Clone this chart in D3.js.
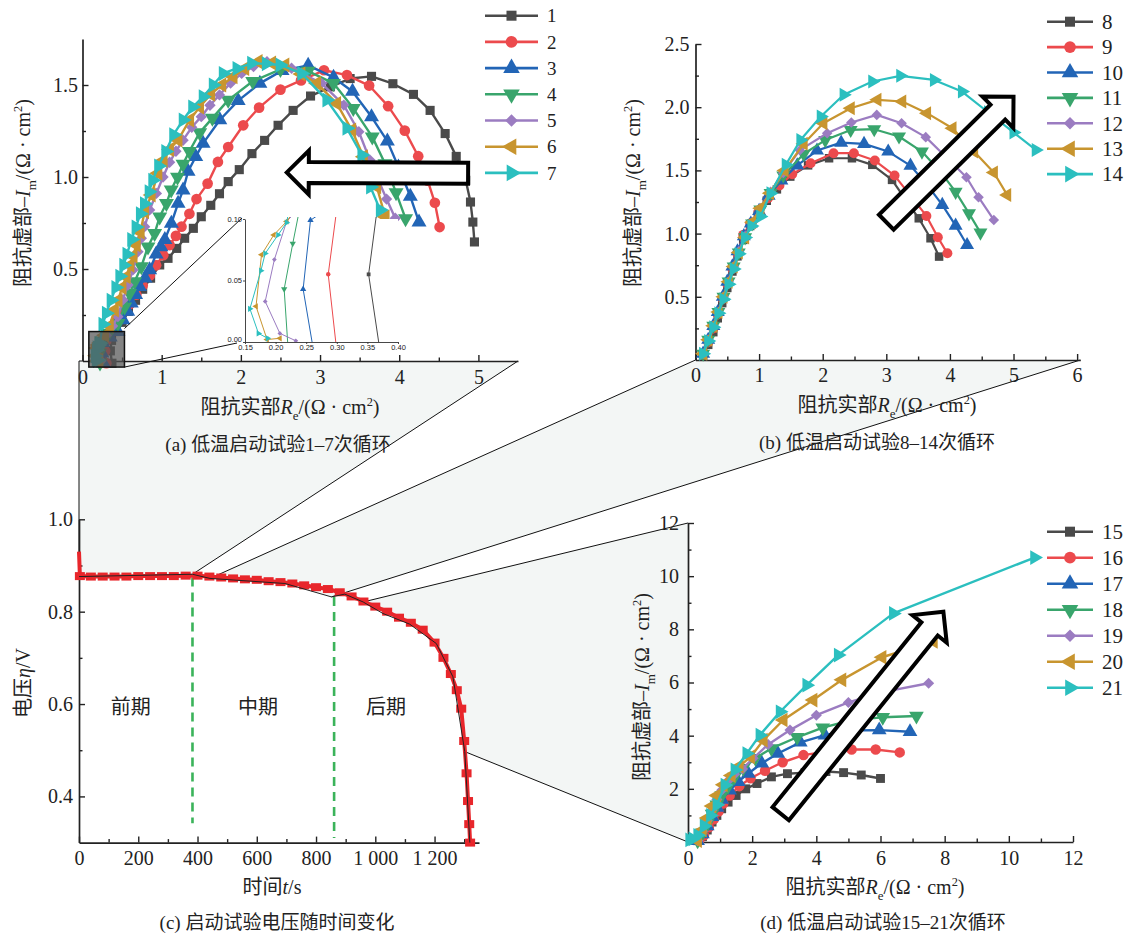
<!DOCTYPE html>
<html>
<head>
<meta charset="utf-8">
<script src="https://cdn.jsdelivr.net/npm/d3@7"></script>
<style>
  body { margin: 0; background: #fff; }
  .fig text { font-family: "Liberation Serif", "Noto Sans CJK SC", serif; fill: #222; }
</style>
</head>
<body>
<div class="fig"></div>
<script>
// ---------- (a) cycles 1-7 : [Re, -Im] ----------
const cyclesA = ['1', '2', '3', '4', '5', '6', '7']
const a1 = [[0.372,-0.012],[0.352,0.055],[0.367,0.112],[0.42,0.16],[0.50,0.21],[0.58,0.27],[0.67,0.33],[0.76,0.39],[0.86,0.45],[0.975,0.522],[1.08,0.558],[1.19,0.612],[1.29,0.667],[1.40,0.721],[1.50,0.784],[1.62,0.846],[1.73,0.909],[1.84,0.975],[1.98,1.04],[2.14,1.127],[2.30,1.199],[2.47,1.281],[2.66,1.362],[2.88,1.44],[3.13,1.49],[3.38,1.535],[3.65,1.547],[3.92,1.507],[4.18,1.449],[4.39,1.362],[4.58,1.236],[4.72,1.112],[4.84,0.982],[4.90,0.864],[4.93,0.755],[4.95,0.647]]
const a2 = [[0.301,-0.012],[0.286,0.055],[0.301,0.112],[0.36,0.17],[0.44,0.22],[0.52,0.27],[0.60,0.31],[0.68,0.36],[0.76,0.41],[0.85,0.465],[0.93,0.52],[1.02,0.575],[1.10,0.63],[1.18,0.68],[1.25,0.73],[1.35,0.80],[1.44,0.88],[1.58,0.964],[1.71,1.082],[1.84,1.163],[2.03,1.281],[2.23,1.377],[2.50,1.475],[2.76,1.525],[3.05,1.58],[3.34,1.554],[3.62,1.497],[3.86,1.385],[4.07,1.252],[4.24,1.113],[4.36,0.98],[4.45,0.86],[4.51,0.728]]
const a3 = [[0.263,-0.01],[0.245,0.043],[0.257,0.099],[0.35,0.13],[0.447,0.159],[0.51,0.223],[0.57,0.27],[0.616,0.314],[0.67,0.36],[0.72,0.404],[0.79,0.45],[0.848,0.495],[0.93,0.58],[0.99,0.62],[1.04,0.66],[1.122,0.748],[1.207,0.857],[1.27,0.929],[1.333,1.03],[1.43,1.11],[1.523,1.183],[1.734,1.31],[1.966,1.415],[2.24,1.509],[2.52,1.578],[2.85,1.607],[3.17,1.541],[3.41,1.465],[3.65,1.327],[3.85,1.195],[3.99,1.054],[4.14,0.895],[4.25,0.755]]
const a4 = [[0.221,-0.01],[0.214,0.043],[0.228,0.08],[0.24,0.11],[0.33,0.15],[0.447,0.205],[0.532,0.295],[0.595,0.368],[0.658,0.431],[0.743,0.513],[0.827,0.621],[0.911,0.694],[0.975,0.784],[1.06,0.857],[1.12,0.93],[1.20,1.0],[1.27,1.07],[1.35,1.14],[1.48,1.241],[1.64,1.32],[1.84,1.418],[2.15,1.52],[2.50,1.585],[2.85,1.575],[3.17,1.509],[3.42,1.373],[3.66,1.218],[3.82,1.073],[3.96,0.915],[4.08,0.774]]
const a5 = [[0.233,0.001],[0.207,0.007],[0.183,0.033],[0.198,0.067],[0.218,0.098],[0.30,0.14],[0.38,0.19],[0.447,0.241],[0.51,0.332],[0.574,0.413],[0.637,0.495],[0.70,0.594],[0.743,0.667],[0.785,0.73],[0.848,0.821],[0.933,0.911],[1.017,1.0],[1.10,1.08],[1.18,1.14],[1.27,1.2],[1.38,1.27],[1.50,1.328],[1.61,1.39],[1.73,1.446],[1.87,1.51],[2.01,1.563],[2.16,1.60],[2.33,1.627],[2.64,1.591],[3.02,1.509],[3.30,1.391],[3.49,1.246],[3.63,1.092],[3.74,0.98],[3.84,0.88],[3.95,0.776]]
const a6 = [[0.207,0.003],[0.186,0.002],[0.168,0.029],[0.177,0.071],[0.197,0.087],[0.218,0.098],[0.28,0.14],[0.34,0.19],[0.405,0.277],[0.45,0.33],[0.50,0.40],[0.553,0.458],[0.60,0.52],[0.64,0.57],[0.68,0.63],[0.73,0.70],[0.785,0.811],[0.869,0.902],[0.953,1.02],[1.02,1.09],[1.10,1.15],[1.207,1.201],[1.354,1.31],[1.48,1.38],[1.62,1.45],[1.76,1.50],[1.903,1.545],[2.05,1.59],[2.219,1.627],[2.39,1.62],[2.557,1.609],[2.76,1.56],[2.958,1.509],[3.211,1.40],[3.401,1.255],[3.549,1.11],[3.717,0.947],[3.823,0.784]]
const a7 = [[0.187,0.003],[0.172,0.007],[0.158,0.027],[0.176,0.058],[0.183,0.072],[0.204,0.087],[0.218,0.097],[0.257,0.2],[0.30,0.26],[0.36,0.33],[0.42,0.40],[0.47,0.46],[0.52,0.52],[0.56,0.58],[0.62,0.66],[0.675,0.728],[0.73,0.80],[0.781,0.855],[0.84,0.92],[0.886,0.982],[0.96,1.06],[1.05,1.138],[1.15,1.23],[1.27,1.31],[1.39,1.38],[1.523,1.436],[1.65,1.50],[1.776,1.563],[1.95,1.59],[2.135,1.618],[2.32,1.615],[2.494,1.609],[2.768,1.563],[3.085,1.418],[3.338,1.265],[3.527,1.12],[3.637,1.0],[3.637,0.946],[3.76,0.82]]

// ---------- (b) cycles 8-14 ----------
const cyclesB = ['8', '9', '10', '11', '12', '13', '14']
const b8 = [[0.12,0.03],[0.2,0.12],[0.28,0.22],[0.35,0.33],[0.42,0.45],[0.5,0.57],[0.58,0.7],[0.66,0.82],[0.75,0.95],[0.86,1.06],[0.98,1.15],[1.12,1.26],[1.28,1.35],[1.49,1.451],[1.77,1.54],[2.1,1.596],[2.46,1.596],[2.78,1.544],[3.09,1.425],[3.3,1.27],[3.51,1.121],[3.695,0.963],[3.83,0.818]]
const b9 = [[0.12,0.04],[0.2,0.14],[0.28,0.25],[0.35,0.36],[0.43,0.48],[0.5,0.6],[0.58,0.72],[0.66,0.84],[0.75,0.99],[0.86,1.08],[0.99,1.17],[1.14,1.28],[1.32,1.38],[1.52,1.47],[1.81,1.557],[2.17,1.636],[2.49,1.636],[2.82,1.578],[3.13,1.459],[3.38,1.3],[3.63,1.14],[3.81,0.971],[3.96,0.844]]
const b10 = [[0.12,0.05],[0.2,0.16],[0.28,0.27],[0.35,0.38],[0.43,0.5],[0.5,0.62],[0.58,0.74],[0.66,0.86],[0.76,0.98],[0.87,1.08],[1.0,1.18],[1.15,1.3],[1.35,1.42],[1.6,1.54],[1.91,1.657],[2.29,1.72],[2.65,1.71],[3.03,1.649],[3.38,1.538],[3.65,1.38],[3.88,1.227],[4.09,1.063],[4.27,0.91]]
const b11 = [[0.12,0.05],[0.2,0.16],[0.28,0.27],[0.36,0.38],[0.44,0.5],[0.52,0.62],[0.6,0.74],[0.68,0.85],[0.78,0.97],[0.89,1.08],[1.02,1.19],[1.18,1.32],[1.38,1.46],[1.7,1.63],[2.04,1.74],[2.44,1.82],[2.81,1.826],[3.2,1.768],[3.56,1.649],[3.85,1.49],[4.09,1.33],[4.3,1.16],[4.48,1.008]]
const b12 = [[0.12,0.05],[0.2,0.16],[0.28,0.27],[0.36,0.38],[0.44,0.5],[0.52,0.62],[0.6,0.74],[0.68,0.86],[0.78,0.98],[0.89,1.09],[1.02,1.2],[1.18,1.33],[1.38,1.48],[1.64,1.66],[2.07,1.794],[2.45,1.879],[2.85,1.939],[3.24,1.873],[3.62,1.763],[3.95,1.6],[4.26,1.446],[4.45,1.288],[4.69,1.108]]
const b13 = [[0.12,0.05],[0.2,0.16],[0.28,0.27],[0.36,0.38],[0.44,0.5],[0.52,0.62],[0.6,0.74],[0.68,0.85],[0.78,0.97],[0.89,1.09],[1.02,1.2],[1.17,1.32],[1.4,1.5],[1.7,1.71],[2.01,1.873],[2.44,1.992],[2.86,2.058],[3.25,2.045],[3.64,1.953],[4.04,1.834],[4.38,1.649],[4.69,1.483],[4.9,1.306]]
const b14 = [[0.12,0.05],[0.2,0.15],[0.28,0.26],[0.36,0.37],[0.44,0.48],[0.52,0.6],[0.6,0.72],[0.68,0.84],[0.78,0.97],[0.88,1.06],[1.02,1.135],[1.18,1.319],[1.42,1.544],[1.65,1.741],[1.97,1.926],[2.33,2.098],[2.78,2.203],[3.22,2.248],[3.75,2.216],[4.19,2.124],[4.6,1.96],[5.0,1.8],[5.35,1.662]]

// ---------- (d) cycles 15-21 ----------
const cyclesD = ['15', '16', '17', '18', '19', '20', '21']
const d15 = [[0.3,0.05],[0.45,0.2],[0.6,0.45],[0.75,0.75],[0.9,1.0],[1.05,1.25],[1.25,1.5],[1.5,1.75],[1.8,2.0],[2.15,2.2],[2.6,2.45],[3.1,2.57],[3.65,2.61],[4.3,2.65],[4.85,2.61],[5.4,2.52],[6.0,2.39]]
const d16 = [[0.35,0.05],[0.5,0.25],[0.65,0.55],[0.8,0.85],[0.95,1.15],[1.1,1.45],[1.3,1.75],[1.6,2.1],[1.95,2.4],[2.4,2.68],[2.95,3.0],[3.6,3.27],[4.3,3.4],[5.1,3.48],[5.85,3.48],[6.6,3.37]]
const d17 = [[0.3,0.05],[0.45,0.3],[0.6,0.6],[0.75,0.95],[0.9,1.3],[1.05,1.6],[1.3,1.95],[1.57,2.27],[1.88,2.58],[2.3,2.96],[2.8,3.33],[3.5,3.75],[4.27,4.02],[5.0,4.2],[5.96,4.21],[6.92,4.15]]
const d18 = [[0.3,0.05],[0.45,0.35],[0.6,0.7],[0.75,1.05],[0.9,1.4],[1.05,1.75],[1.25,2.1],[1.45,2.45],[1.72,2.77],[2.1,3.15],[2.6,3.52],[3.4,3.94],[4.2,4.3],[5.15,4.6],[6.07,4.69],[7.12,4.74]]
const d19 = [[0.3,0.05],[0.45,0.4],[0.6,0.8],[0.75,1.2],[0.9,1.6],[1.05,1.95],[1.25,2.3],[1.45,2.55],[1.7,2.75],[2.03,3.15],[2.5,3.67],[3.18,4.21],[4.0,4.77],[5.0,5.25],[6.1,5.65],[7.5,5.97]]
const d20 = [[0.3,0.05],[0.45,0.45],[0.6,0.9],[0.75,1.35],[0.9,1.75],[1.1,2.15],[1.35,2.5],[1.6,2.85],[1.95,3.2],[2.35,3.83],[2.97,4.59],[3.9,5.34],[4.8,6.1],[6.05,6.95],[7.65,7.55]]
const d21 = [[0.05,0.08],[0.15,0.12],[0.3,0.25],[0.5,0.6],[0.7,1.0],[0.9,1.4],[1.15,2.14],[1.46,2.71],[1.83,3.33],[2.24,4.02],[2.87,4.9],[3.7,5.9],[4.68,7.03],[6.4,8.6],[10.8,10.7]]

// ---------- (c) voltage vs time ----------
const timeS = [0, 3, 40, 80, 120, 160, 200, 240, 280, 320, 360, 400, 440, 480, 520, 560, 600, 640, 680, 720, 760, 800, 840, 880, 920, 960, 1000, 1040, 1080, 1120, 1160, 1200, 1230, 1255, 1275, 1290, 1300, 1308, 1313, 1317, 1320]
const voltV = [0.93, 0.877, 0.876, 0.876, 0.876, 0.876, 0.877, 0.877, 0.877, 0.877, 0.878, 0.878, 0.876, 0.874, 0.872, 0.870, 0.869, 0.866, 0.864, 0.861, 0.857, 0.853, 0.849, 0.842, 0.833, 0.822, 0.811, 0.800, 0.787, 0.776, 0.761, 0.733, 0.70, 0.665, 0.630, 0.59, 0.52, 0.45, 0.39, 0.34, 0.30]
// thin black guide line through the zoom anchors
const fitT = [0, 383, 442, 695, 852, 897, 959, 1026, 1116, 1206, 1262, 1302, 1319]
const fitV = [0.876, 0.881, 0.872, 0.861, 0.832, 0.838, 0.821, 0.796, 0.773, 0.731, 0.659, 0.497, 0.30]
const phaseNames = ['前期', '中期', '后期']
const phaseLabelT = [175, 604, 1036]
const phaseBounds = [[383, 0.874, 0.342], [861, 0.832, 0.31]]

const seriesColors = ['#4a4a4a', '#ec4a4d', '#2265b6', '#39a56c', '#9b7cc1', '#c8952f', '#2bbfbf']
const seriesShapes = ['square', 'circle', 'up', 'down', 'diamond', 'left', 'right']

const svg = d3.select('.fig').append('svg').attr('width', 1133).attr('height', 938)

// scales
const xA = d3.scaleLinear().domain([0, 5.5]).range([82.5, 518])
const yA = d3.scaleLinear().domain([0, 1.75]).range([361, 39])
const xB = d3.scaleLinear().domain([0, 6.05]).range([695.5, 1080.3])
const yB = d3.scaleLinear().domain([0, 2.5]).range([360, 44])
const xC = d3.scaleLinear().domain([0, 1350]).range([79, 479])
const yC = d3.scaleLinear().domain([0.3, 1.0]).range([842.6, 519.3])
const xD = d3.scaleLinear().domain([0, 12]).range([688, 1073])
const yD = d3.scaleLinear().domain([0, 12]).range([842, 523])
const xIn = d3.scaleLinear().domain([0.15, 0.40]).range([245, 398])
const yIn = d3.scaleLinear().domain([0, 0.10]).range([342, 219])

const symbolOf = {
  square: [d3.symbolSquare, 0], circle: [d3.symbolCircle, 0], up: [d3.symbolTriangle, 0],
  down: [d3.symbolTriangle, 180], diamond: [d3.symbolSquare, 45], left: [d3.symbolTriangle, -90],
  right: [d3.symbolTriangle, 90]
}
const markArea = { square: 72, circle: 78, up: 85, down: 85, diamond: 56, left: 85, right: 85 }
const markerPath = (shape, k) => d3.symbol(symbolOf[shape][0], markArea[shape] * k)()

function drawSeries(g, x, y, list, k, lw) {
  list.forEach((pts, i) => {
    const shape = seriesShapes[i], color = seriesColors[i], rot = symbolOf[shape][1]
    const s = g.append('g')
    s.append('path').datum(pts)
      .attr('d', d3.line().x(d => x(d[0])).y(d => y(d[1])))
      .attr('fill', 'none').attr('stroke', color).attr('stroke-width', lw).attr('stroke-linejoin', 'round')
    s.selectAll('.m').data(pts).join('path').attr('class', 'm')
      .attr('d', markerPath(shape, k))
      .attr('transform', d => `translate(${x(d[0])},${y(d[1])}) rotate(${rot})`)
      .attr('fill', color)
  })
}

function drawAxes(g, x, y, o) {
  const xa = g.append('g').attr('transform', `translate(0,${y.range()[0]})`)
    .call(d3.axisBottom(x).tickValues(o.xMajor).tickFormat(o.xFmt).tickSizeInner(-6).tickSizeOuter(0).tickPadding(o.xPad))
  xa.append('g').call(d3.axisBottom(x).tickValues(o.xMinor).tickFormat('').tickSizeInner(-3.5).tickSizeOuter(0))
    .select('.domain').remove()
  const ya = g.append('g').attr('transform', `translate(${x.range()[0]},0)`)
    .call(d3.axisLeft(y).tickValues(o.yMajor).tickFormat(o.yFmt).tickSizeInner(-6).tickSizeOuter(0).tickPadding(o.yPad))
  ya.append('g').call(d3.axisLeft(y).tickValues(o.yMinor).tickFormat('').tickSizeInner(-3.5).tickSizeOuter(0))
    .select('.domain').remove()
  g.selectAll('.domain').attr('stroke', '#222').attr('stroke-width', 1.7)
  g.selectAll('.tick line').attr('stroke', '#222').attr('stroke-width', 1.4)
  g.selectAll('.tick text').attr('font-size', 20).attr('fill', '#222')
}

function richText(g, parts, x, y, size, rotate) {
  const t = g.append('text').attr('font-size', size).attr('text-anchor', 'middle')
    .attr('transform', `translate(${x},${y})` + (rotate ? ` rotate(${rotate})` : ''))
  let shift = 0
  parts.forEach(([str, kind]) => {
    const ts = t.append('tspan').text(str)
    let target = 0
    if (kind === 'sub') { target = 0.28 * size; ts.attr('font-size', size * 0.65) }
    if (kind === 'sup') { target = -0.4 * size; ts.attr('font-size', size * 0.62) }
    if (kind === 'i') ts.attr('font-style', 'italic')
    if (target !== shift) { ts.attr('dy', target - shift); shift = target }
  })
}
const titleRe = [['阻抗实部', ''], ['R', 'i'], ['e', 'sub'], ['/(Ω · cm', ''], ['2', 'sup'], [')', '']]
const titleIm = [['阻抗虚部–', ''], ['I', 'i'], ['m', 'sub'], ['/(Ω · cm', ''], ['2', 'sup'], [')', '']]

function drawLegend(g, names, x0, x1, y0, dy, fs) {
  names.forEach((n, i) => {
    const yy = y0 + i * dy, shape = seriesShapes[i]
    g.append('line').attr('x1', x0).attr('x2', x1).attr('y1', yy).attr('y2', yy)
      .attr('stroke', seriesColors[i]).attr('stroke-width', 2.6)
    g.append('path').attr('d', markerPath(shape, 1.4))
      .attr('transform', `translate(${(x0 + x1) / 2},${yy}) rotate(${symbolOf[shape][1]})`)
      .attr('fill', seriesColors[i])
    g.append('text').attr('x', x1 + 9).attr('y', yy).attr('dy', '0.35em').attr('font-size', fs).text(n)
  })
}

function drawArrow(g, x0, y0, x1, y1) {
  const L = Math.hypot(x1 - x0, y1 - y0), ux = (x1 - x0) / L, uy = (y1 - y0) / L, nx = -uy, ny = ux
  const sw = 10.5, hw = 22, hl = 22, bx = x1 - ux * hl, by = y1 - uy * hl
  const pts = [[x0 + nx * sw, y0 + ny * sw], [bx + nx * sw, by + ny * sw], [bx + nx * hw, by + ny * hw], [x1, y1],
    [bx - nx * hw, by - ny * hw], [bx - nx * sw, by - ny * sw], [x0 - nx * sw, y0 - ny * sw]]
  g.append('polygon').attr('points', pts.map(p => p.join(',')).join(' '))
    .attr('fill', '#fff').attr('stroke', '#000').attr('stroke-width', 4).attr('stroke-linejoin', 'miter')
}

// ---------- zoom connectors from (c) to the other panels ----------
const fitPts = fitT.map((t, i) => [xC(t), yC(fitV[i])])
const conn = svg.append('g')
const polys = [
  [[xC(0), yA(0)], [xA(5.5), yA(0)], fitPts[1], fitPts[0]],
  [[xB(0), yB(0)], [xB(6.05), yB(0)], fitPts[4], fitPts[3], fitPts[2]],
  [[xD(0), yD(12)], [xD(0), yD(0)], ...fitPts.slice(6, 12).reverse()]
]
conn.selectAll('polygon').data(polys).join('polygon')
  .attr('points', d => d.map(p => p.join(',')).join(' ')).attr('fill', '#f3f6f5')
const connLines = [
  [[xC(0), yA(0)], fitPts[0]], [[xC(0), yA(0)], [xA(0), yA(0)]], [[xA(5.5), yA(0)], fitPts[1]],
  [[xB(0), yB(0)], fitPts[2]], [[xB(6.05), yB(0)], fitPts[4]],
  [[xD(0), yD(12)], fitPts[6]], [[xD(0), yD(0)], fitPts[11]]
]
conn.selectAll('line').data(connLines).join('line')
  .attr('x1', d => d[0][0]).attr('y1', d => d[0][1]).attr('x2', d => d[1][0]).attr('y2', d => d[1][1])
  .attr('stroke', '#111').attr('stroke-width', 1)

// ---------- panel (a) ----------
const gA = svg.append('g')
drawAxes(gA, xA, yA, {
  xMajor: [0, 1, 2, 3, 4, 5], xMinor: [0.5, 1.5, 2.5, 3.5, 4.5], xFmt: d3.format('d'), xPad: 8.5,
  yMajor: [0.5, 1.0, 1.5], yMinor: [0.25, 0.75, 1.25], yFmt: d3.format('.1f'), yPad: 4.5
})
drawSeries(gA, xA, yA, [a1, a2, a3, a4, a5, a6, a7], 1.15, 2.4)
drawArrow(gA, xA(4.87), yA(1.02), xA(2.58), yA(1.025))
// zoom box and inset
gA.append('rect').attr('x', xA(0.08)).attr('y', yA(0.16))
  .attr('width', xA(0.53) - xA(0.08)).attr('height', yA(-0.033) - yA(0.16))
  .attr('fill', '#555').attr('fill-opacity', 0.72).attr('stroke', '#111').attr('stroke-width', 1.5)
gA.append('line').attr('x1', xA(0.53)).attr('y1', yA(0.16) - 3).attr('x2', xIn(0.15) - 3).attr('y2', yIn(0.10) - 1)
  .attr('stroke', '#111').attr('stroke-width', 1)
gA.append('line').attr('x1', xA(0.53)).attr('y1', yA(-0.033)).attr('x2', xIn(0.15) - 8).attr('y2', yIn(0) + 1)
  .attr('stroke', '#111').attr('stroke-width', 1)
const gIn = svg.append('g')
gIn.append('rect').attr('x', xIn(0.15)).attr('y', yIn(0.10))
  .attr('width', xIn(0.40) - xIn(0.15)).attr('height', yIn(0) - yIn(0.10)).attr('fill', '#fff')
svg.append('clipPath').attr('id', 'inclip').append('rect')
  .attr('x', xIn(0.15)).attr('y', yIn(0.10) - 2).attr('width', xIn(0.40) - xIn(0.15) + 2).attr('height', yIn(0) - yIn(0.10) + 2)
const gInData = gIn.append('g').attr('clip-path', 'url(#inclip)')
drawSeries(gInData, xIn, yIn, [a1, a2, a3, a4, a5, a6, a7], 0.2, 1)
const inAx = gIn.append('g')
inAx.append('g').attr('transform', `translate(0,${yIn(0)})`)
  .call(d3.axisBottom(xIn).tickValues([0.15, 0.20, 0.25, 0.30, 0.35, 0.40]).tickFormat(d3.format('.2f')).tickSize(2).tickSizeOuter(0).tickPadding(1))
inAx.append('g').attr('transform', `translate(${xIn(0.15)},0)`)
  .call(d3.axisLeft(yIn).tickValues([0, 0.05, 0.10]).tickFormat(d3.format('.2f')).tickSize(2).tickSizeOuter(0).tickPadding(1))
inAx.selectAll('.domain, .tick line').attr('stroke', '#333').attr('stroke-width', 0.9)
inAx.selectAll('.tick text').attr('font-size', 7.5).attr('fill', '#333')
  .style('font-family', '"Liberation Sans", Arial, sans-serif')
// lift the y "0.00" label a little off the x "0.15" label
inAx.selectAll('.tick text').filter(d => d === 0).attr('dy', '-0.1em')

drawLegend(gA, cyclesA, 485, 538, 15.7, 26.2, 19)
richText(gA, titleRe, 290, 414, 20)
richText(gA, titleIm, 30, 193, 20, -90)
gA.append('text').attr('x', 278).attr('y', 451).attr('text-anchor', 'middle').attr('font-size', 19)
  .text('(a) 低温启动试验1–7次循环')

// ---------- panel (b) ----------
const gB = svg.append('g')
drawAxes(gB, xB, yB, {
  xMajor: [0, 1, 2, 3, 4, 5, 6], xMinor: [0.5, 1.5, 2.5, 3.5, 4.5, 5.5], xFmt: d3.format('d'), xPad: 8,
  yMajor: [0.5, 1.0, 1.5, 2.0, 2.5], yMinor: [0.25, 0.75, 1.25, 1.75, 2.25], yFmt: d3.format('.1f'), yPad: 6
})
drawSeries(gB, xB, yB, [b8, b9, b10, b11, b12, b13, b14], 1.0, 2.2)
drawArrow(gB, xB(3.0), yB(1.09), xB(5.0), yB(2.083))
drawLegend(gB, cyclesB, 1047, 1093, 21.7, 25.4, 21)
richText(gB, titleRe, 887, 412, 20)
richText(gB, titleIm, 640, 193, 20, -90)
gB.append('text').attr('x', 877).attr('y', 449).attr('text-anchor', 'middle').attr('font-size', 19)
  .text('(b) 低温启动试验8–14次循环')

// ---------- panel (c) ----------
const gC = svg.append('g')
drawAxes(gC, xC, yC, {
  xMajor: [0, 200, 400, 600, 800, 1000, 1200], xMinor: [100, 300, 500, 700, 900, 1100, 1300],
  xFmt: d => d3.format(',')(d).replace(',', ' '), xPad: 8.5,
  yMajor: [0.4, 0.6, 0.8, 1.0], yMinor: [0.5, 0.7, 0.9], yFmt: d3.format('.1f'), yPad: 6
})
phaseBounds.forEach(([t, v0, v1]) => {
  gC.append('line').attr('x1', xC(t)).attr('x2', xC(t)).attr('y1', yC(v0)).attr('y2', yC(v1))
    .attr('stroke', '#3bb35a').attr('stroke-width', 2.6).attr('stroke-dasharray', '9,6')
})
const volt = timeS.map((t, i) => [t, voltV[i]])
gC.append('path').datum(volt).attr('d', d3.line().x(d => xC(d[0])).y(d => yC(d[1])))
  .attr('fill', 'none').attr('stroke', '#e8262b').attr('stroke-width', 4)
gC.selectAll('.vm').data(volt.slice(1)).join('rect').attr('class', 'vm')
  .attr('x', d => xC(d[0]) - 5).attr('y', d => yC(d[1]) - 4).attr('width', 10).attr('height', 8)
  .attr('fill', '#e8262b')
gC.append('path').datum(fitPts).attr('d', d3.line()).attr('fill', 'none').attr('stroke', '#222').attr('stroke-width', 1)
phaseNames.forEach((n, i) => {
  gC.append('text').attr('x', xC(phaseLabelT[i])).attr('y', yC(0.594)).attr('dy', '0.35em')
    .attr('text-anchor', 'middle').attr('font-size', 20).text(n)
})
richText(gC, [['电压', ''], ['η', 'i'], ['/V', '']], 30, 683, 20, -90)
richText(gC, [['时间', ''], ['t', 'i'], ['/s', '']], 272, 894, 20)
gC.append('text').attr('x', 277).attr('y', 929).attr('text-anchor', 'middle').attr('font-size', 19)
  .text('(c) 启动试验电压随时间变化')

// ---------- panel (d) ----------
const gD = svg.append('g')
drawAxes(gD, xD, yD, {
  xMajor: [0, 2, 4, 6, 8, 10, 12], xMinor: [1, 3, 5, 7, 9, 11], xFmt: d3.format('d'), xPad: 8.5,
  yMajor: [2, 4, 6, 8, 10, 12], yMinor: [1, 3, 5, 7, 9, 11], yFmt: d3.format('d'), yPad: 9
})
drawSeries(gD, xD, yD, [d15, d16, d17, d18, d19, d20, d21], 1.1, 2.4)
drawArrow(gD, xD(2.89), yD(1.065), xD(7.96), yD(8.66))
drawLegend(gD, cyclesD, 1047, 1093, 531.7, 26, 21)
richText(gD, titleRe, 875, 894, 20)
richText(gD, titleIm, 649, 687, 20, -90)
gD.append('text').attr('x', 883).attr('y', 929).attr('text-anchor', 'middle').attr('font-size', 19)
  .text('(d) 低温启动试验15–21次循环')
</script>
</body>
</html>
